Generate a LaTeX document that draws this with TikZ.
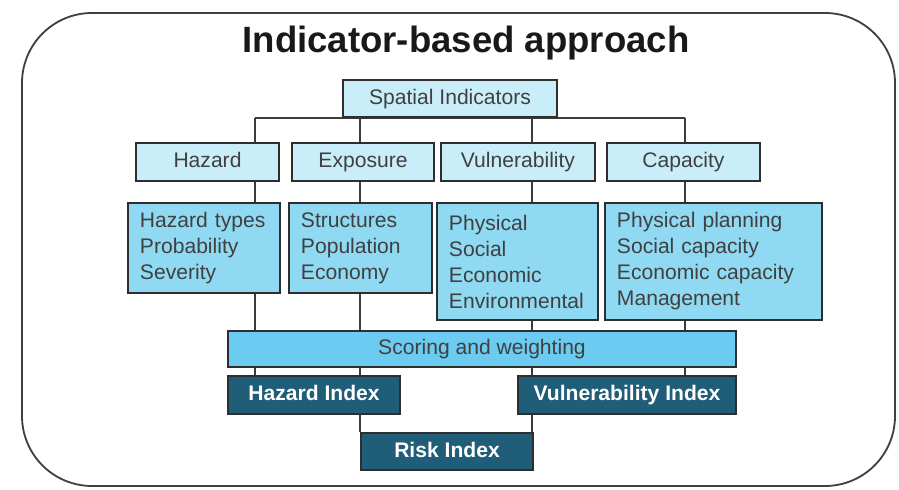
\documentclass[tikz,border=0pt]{standalone}
\usepackage{fontspec}
\setmainfont{Liberation Sans}
\usetikzlibrary{backgrounds}
\definecolor{headfill}{HTML}{C9EEF9}
\definecolor{listfill}{HTML}{8FD9F2}
\definecolor{scorefill}{HTML}{6CCBF0}
\definecolor{idxfill}{HTML}{1F5D78}
\definecolor{boxline}{HTML}{2E2E2E}
\definecolor{linkc}{HTML}{3C3C3C}

\begin{document}
\begin{tikzpicture}[x=0.025cm,y=-0.025cm,
  box/.style={draw=boxline,line width=1.4pt,inner sep=0pt,font=\fontsize{15}{18.5}\selectfont,text=black!75},
  head/.style={box,fill=headfill,minimum height=0.95cm,text height=11pt,text depth=3pt},
  list/.style={box,fill=listfill,align=left,inner xsep=0.3cm},
  idx/.style={box,fill=idxfill,text=white,font=\fontsize{15}{18.5}\selectfont\bfseries,minimum height=0.95cm,text height=11pt,text depth=3pt},
  link/.style={draw=linkc,line width=2pt}]
\useasboundingbox (0,0) rectangle (899,490);
\draw[rounded corners=1.75cm,line width=1.3pt,draw=black!75] (22,13) rectangle (895,486);
\node[font=\fontsize{26}{30}\selectfont\bfseries,text=black!90,anchor=base] (title) at (466,53) {Indicator-based approach};

\node[head,minimum width=5.35cm,minimum height=0.925cm] (spatial) at (450,98.5) {Spatial Indicators};

\node[head,minimum width=3.575cm] (hazard) at (207.5,162) {Hazard};
\node[head,minimum width=3.55cm] (exposure) at (363,162) {Exposure};
\node[head,minimum width=3.85cm] (vulner) at (518,162) {Vulnerability};
\node[head,minimum width=3.825cm] (capacity) at (683.5,162) {Capacity};

\node[list,text width=3.2cm,minimum height=2.25cm] (htypes) at (204,248) {Hazard types\\Probability\\Severity};
\node[list,text width=2.975cm,minimum height=2.25cm] (struct) at (360.5,248) {Structures\\Population\\Economy};
\node[list,text width=3.425cm,minimum height=2.925cm] (physical) at (517.5,261.5) {Physical\\Social\\Economic\\Environmental};
\node[list,text width=4.825cm,minimum height=2.925cm] (caplist) at (713.5,261.5) {Physical planning\\Social capacity\\Economic capacity\\Management};

\node[box,fill=scorefill,minimum width=12.7cm,minimum height=0.9cm,text height=11pt,text depth=3pt] (scoring) at (482,349) {Scoring and weighting};

\node[idx,minimum width=4.3cm] (hindex) at (314,395) {Hazard Index};
\node[idx,minimum width=5.45cm] (vindex) at (627,395) {Vulnerability Index};
\node[idx,minimum width=4.3cm,minimum height=0.925cm] (risk) at (447,451.5) {Risk Index};

\coordinate (c1) at (255,0);
\coordinate (c2) at (360,0);
\coordinate (c3) at (532,0);
\coordinate (c4) at (685,0);

\begin{scope}[on background layer]
\draw[link] (c1 |- spatial.south) -- (c4 |- spatial.south);
\draw[link] (c1 |- spatial.south) -- (c1 |- hindex.north);
\draw[link] (c2 |- spatial.south) -- (c2 |- risk.north);
\draw[link] (c3 |- spatial.south) -- (c3 |- risk.north);
\draw[link] (c4 |- spatial.south) -- (c4 |- vindex.north);
\end{scope}
\end{tikzpicture}
\end{document}
